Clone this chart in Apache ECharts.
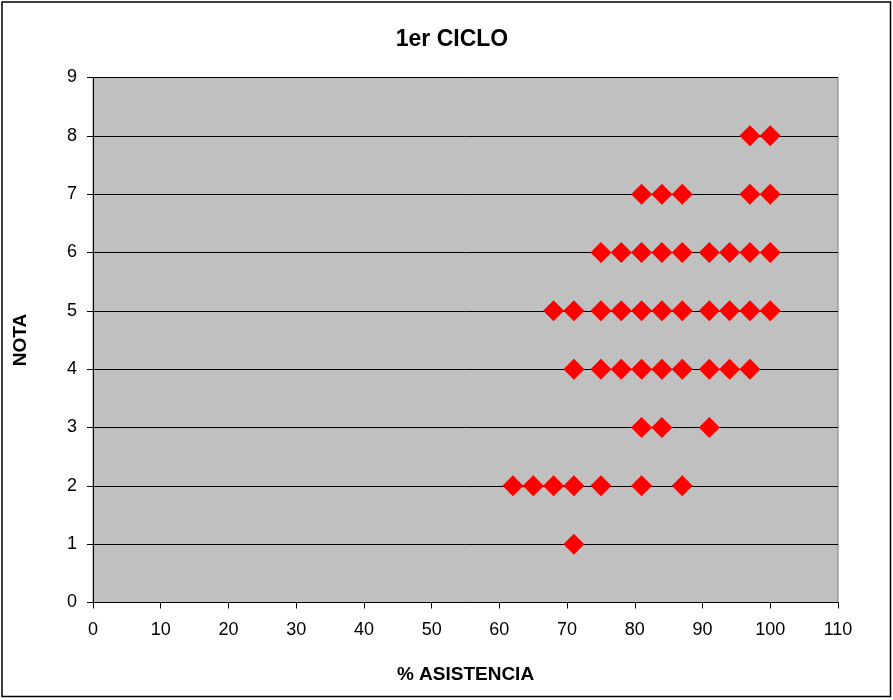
<!DOCTYPE html>
<html>
<head>
<meta charset="utf-8">
<script src="https://cdn.jsdelivr.net/npm/echarts@6/dist/echarts.min.js"></script>
<style>
html,body{margin:0;padding:0;background:#fff;}
#chart{width:893px;height:700px;}
</style>
</head>
<body>
<div id="chart"></div>
<script>
// % asistencia values for each grade (NOTA)
const nota1 = [71];
const nota2 = [62, 65, 68, 71, 75, 81, 87];
const nota3 = [81, 84, 91];
const nota4 = [71, 75, 78, 81, 84, 87, 91, 94, 97];
const nota5 = [68, 71, 75, 78, 81, 84, 87, 91, 94, 97, 100];
const nota6 = [75, 78, 81, 84, 87, 91, 94, 97, 100];
const nota7 = [81, 84, 87, 97, 100];
const nota8 = [97, 100];
const notas = [1, 2, 3, 4, 5, 6, 7, 8];
const groups = [nota1, nota2, nota3, nota4, nota5, nota6, nota7, nota8];

const points = [];
groups.forEach((g, i) => g.forEach(x => points.push([x, notas[i]])));

const font = 'Liberation Sans, Arial, sans-serif';
const chart = echarts.init(document.getElementById('chart'));
chart.setOption({
  animation: false,
  backgroundColor: '#fff',
  title: {
    text: '1er CICLO',
    left: 447, top: 23, textAlign: 'center',
    textStyle: {fontFamily: font, fontSize: 23, fontWeight: 'bold', color: '#000'}
  },
  graphic: [{
    type: 'rect', silent: true, z: 100,
    shape: {x: 2, y: 2, width: 888.5, height: 694.5},
    style: {fill: 'none', stroke: '#000', lineWidth: 1.5}
  }],
  grid: {
    left: 93, top: 77.5, width: 745, height: 525,
    show: true, backgroundColor: '#C0C0C0', borderColor: '#808080', borderWidth: 1
  },
  xAxis: {
    type: 'value', min: 0, max: 110, interval: 10,
    name: '% ASISTENCIA', nameLocation: 'middle', nameGap: 63,
    nameTextStyle: {fontFamily: font, fontSize: 19, fontWeight: 'bold', color: '#000'},
    axisLine: {show: true, lineStyle: {color: '#000', width: 1}},
    axisTick: {show: true, inside: false, length: 6, lineStyle: {color: '#000'}},
    axisLabel: {fontFamily: font, fontSize: 18, color: '#000', margin: 19},
    splitLine: {show: false}
  },
  yAxis: {
    type: 'value', min: 0, max: 9, interval: 1,
    name: 'NOTA', nameLocation: 'middle', nameGap: 63, nameRotate: 90,
    nameTextStyle: {fontFamily: font, fontSize: 19, fontWeight: 'bold', color: '#000'},
    axisLine: {show: true, lineStyle: {color: '#000', width: 1}},
    axisTick: {show: true, inside: false, length: 6, lineStyle: {color: '#000'}},
    axisLabel: {fontFamily: font, fontSize: 18, color: '#000', margin: 16},
    splitLine: {show: true, lineStyle: {color: '#000', width: 1}}
  },
  series: [{
    type: 'scatter',
    data: points,
    symbol: 'diamond',
    symbolSize: 21,
    itemStyle: {color: '#FF0000', opacity: 1}
  }]
});
</script>
</body>
</html>
